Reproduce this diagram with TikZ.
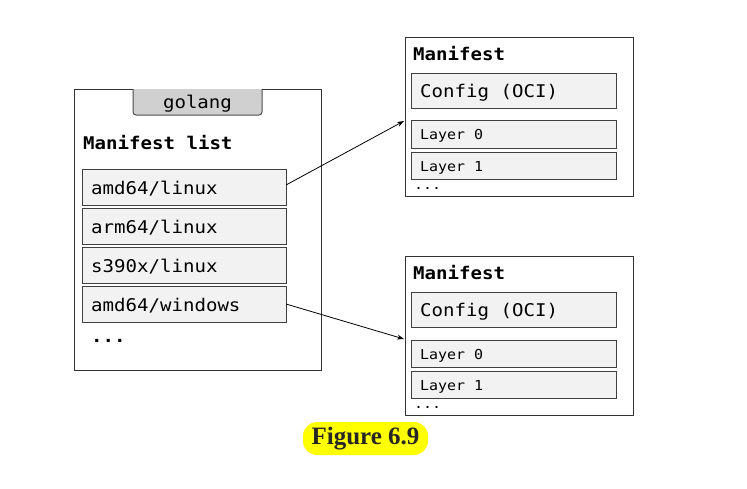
\documentclass[tikz,border=0pt]{standalone}
\usepackage{fontspec}
\usetikzlibrary{arrows.meta}
\newfontfamily\monof[FakeStretch=1.09]{DejaVu Sans Mono}
\newfontfamily\figf{Liberation Serif}
\definecolor{itemfill}{HTML}{F2F2F2}
\definecolor{tabfill}{HTML}{D0D0D0}
\definecolor{figyellow}{HTML}{FFFF00}
\tikzset{
  outerbox/.style={draw=black!80, line width=1pt, fill=white},
  itembox/.style={draw=black!75, line width=1pt, fill=itemfill, anchor=north west, inner sep=0pt},
  itemtext/.style={font=\monof\fontsize{17.5}{20}\selectfont, anchor=west, inner sep=0pt, yshift=-2pt},
  smalltext/.style={font=\monof\fontsize{13.7}{16}\selectfont, anchor=west, inner sep=0pt, yshift=-2pt},
  boldtext/.style={font=\monof\bfseries\fontsize{17.5}{20}\selectfont, anchor=west, inner sep=0pt, yshift=-2pt},
  conn/.style={draw=black, line width=0.8pt, -{Stealth[length=7pt,width=5pt]}}
}
\begin{document}
\begin{tikzpicture}[x=1pt,y=-1pt]
\useasboundingbox (0,0) rectangle (747,488);
% left manifest list
\draw[outerbox] (74,89) rectangle (321,370);
\draw[draw=black!70, line width=1pt, fill=tabfill, rounded corners=3pt] (133,89) -- (133,115) -- (262,115) -- (262,89);
\node[itemtext, anchor=center] (golang) at (197.5,102) {golang};
\node[boldtext] (mlist) at (83,141) {Manifest list};
\path[itembox] (82,169) rectangle (286,205);
\path[itembox] (82,208) rectangle (286,244);
\path[itembox] (82,247) rectangle (286,283);
\path[itembox] (82,286) rectangle (286,322);
\node[itemtext] (amdlinux) at (91,187) {amd64/linux};
\node[itemtext] (armlinux) at (91,226) {arm64/linux};
\node[itemtext] (s390) at (91,265) {s390x/linux};
\node[itemtext] (amdwin) at (91,304) {amd64/windows};
\node[boldtext] (ldots) at (91,339) {...};
\coordinate (src1) at (286,185);
\coordinate (src2) at (286,304);
% right top manifest
\draw[outerbox] (405,37) rectangle (633,196);
\node[boldtext] (m1) at (413,52) {Manifest};
\path[itembox] (411,73) rectangle (616,108);
\node[itemtext] (c1) at (420,91) {Config (OCI)};
\path[itembox] (411,120) rectangle (616,148);
\node[smalltext] (l10) at (420,134) {Layer 0};
\path[itembox] (411,152) rectangle (616,179);
\node[smalltext] (l11) at (420,166) {Layer 1};
\node[smalltext] (d1) at (414,186) {...};
\coordinate (dst1) at (404,121);
% right bottom manifest
\draw[outerbox] (405,256) rectangle (633,415);
\node[boldtext] (m2) at (413,271) {Manifest};
\path[itembox] (411,292) rectangle (616,327);
\node[itemtext] (c2) at (420,310) {Config (OCI)};
\path[itembox] (411,340) rectangle (616,367);
\node[smalltext] (l20) at (420,354) {Layer 0};
\path[itembox] (411,371) rectangle (616,398);
\node[smalltext] (l21) at (420,385) {Layer 1};
\node[smalltext] (d2) at (414,405) {...};
\coordinate (dst2) at (404,339);
% connectors
\draw[conn] (src1) -- (dst1);
\draw[conn] (src2) -- (dst2);
% figure label
\node[fill=figyellow, rounded corners=14pt, minimum width=125pt, minimum height=33pt, inner sep=0pt,
      font=\figf\bfseries\fontsize{25}{28}\selectfont, text=black!85] (fig) at (365.5,438.5) {Figure 6.9};
\end{tikzpicture}
\end{document}
